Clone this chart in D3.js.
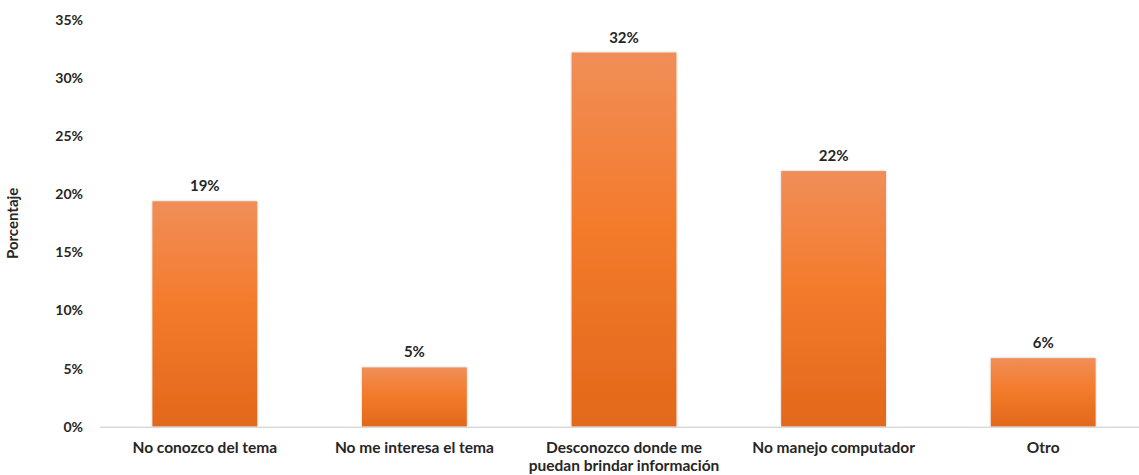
<!DOCTYPE html>
<html>
<head>
<meta charset="utf-8">
<script src="https://cdn.jsdelivr.net/npm/d3@7"></script>
<style>
  html, body { margin: 0; padding: 0; background: #fff; }
  svg { display: block; }
  text { font-family: Lato, "Open Sans", sans-serif; font-weight: 700; fill: #262626; }
</style>
</head>
<body>
<svg id="chart" width="1139" height="475"></svg>
<script>
// Razones por las que no se usa el servicio (porcentaje de respuestas)
const categories = [
  "No conozco del tema",
  "No me interesa el tema",
  "Desconozco donde me|puedan brindar información",
  "No manejo computador",
  "Otro"
];
const values = [0.194, 0.051, 0.322, 0.220, 0.059];
const yTicks = [0, 0.05, 0.10, 0.15, 0.20, 0.25, 0.30, 0.35];
const yTitle = "Porcentaje";

const svg = d3.select("#chart");
const W = 1139, H = 475;
const margin = { top: 20, left: 100, bottom: 48 };
const plotRight = 1148;
const baseY = H - margin.bottom - 0.3;

const x = d3.scaleBand()
  .domain(categories)
  .range([margin.left, plotRight])
  .paddingInner(0.5)
  .paddingOuter(0.25);

const y = d3.scaleLinear()
  .domain([0, 0.35])
  .range([baseY, margin.top]);

const pct = d3.format(".0%");

// bar fill: light orange at the top, deeper orange at the base
const defs = svg.append("defs");
const grad = defs.append("linearGradient")
  .attr("id", "barFill")
  .attr("x1", 0).attr("y1", 0).attr("x2", 0).attr("y2", 1);
grad.append("stop").attr("offset", "0%").attr("stop-color", "#F08E58");
grad.append("stop").attr("offset", "45%").attr("stop-color", "#F37B2C");
grad.append("stop").attr("offset", "100%").attr("stop-color", "#E2681B");

const shadow = defs.append("filter").attr("id", "barShadow")
  .attr("x", "-5%").attr("y", "-5%").attr("width", "110%").attr("height", "110%");
shadow.append("feDropShadow")
  .attr("dx", 0).attr("dy", 0).attr("stdDeviation", 1)
  .attr("flood-color", "#000").attr("flood-opacity", 0.25);

// y axis (labels only)
const yAxis = d3.axisLeft(y)
  .tickValues(yTicks)
  .tickFormat(pct)
  .tickSize(0)
  .tickPadding(0);
const yg = svg.append("g")
  .attr("transform", "translate(83,0)")
  .call(yAxis);
yg.select(".domain").remove();
yg.selectAll("text")
  .attr("font-size", 14)
  .attr("font-family", "Lato, sans-serif")
  .attr("font-weight", 700)
  .attr("fill", "#262626");

// y axis title
svg.append("text")
  .attr("transform", `translate(18,${(margin.top + baseY) / 2}) rotate(-90)`)
  .attr("text-anchor", "middle")
  .attr("font-size", 15)
  .text(yTitle);

// bars
svg.append("g").selectAll("rect")
  .data(values)
  .join("rect")
  .attr("x", (d, i) => x(categories[i]))
  .attr("y", d => y(d))
  .attr("width", x.bandwidth())
  .attr("height", d => y(0) - y(d))
  .attr("fill", "url(#barFill)")
  .attr("filter", "url(#barShadow)");

// baseline
svg.append("line")
  .attr("x1", margin.left).attr("x2", W)
  .attr("y1", baseY + 0.5).attr("y2", baseY + 0.5)
  .attr("stroke", "#D9D9D9").attr("stroke-width", 1.5);

// value labels
svg.append("g").selectAll("text")
  .data(values)
  .join("text")
  .attr("x", (d, i) => x(categories[i]) + x.bandwidth() / 2)
  .attr("y", d => y(d) - 10)
  .attr("text-anchor", "middle")
  .attr("font-size", 15)
  .text(d => pct(d));

// category labels (| marks a line break)
const xAxis = d3.axisBottom(x).tickSize(0).tickFormat("");
const xg = svg.append("g")
  .attr("transform", `translate(0,${baseY})`)
  .call(xAxis);
xg.select(".domain").remove();
xg.selectAll(".tick").each(function (d) {
  const t = d3.select(this).append("text")
    .attr("text-anchor", "middle")
    .attr("y", 26)
    .attr("font-size", 15.5)
    .attr("font-family", "Lato, sans-serif")
    .attr("font-weight", 700)
    .attr("fill", "#262626");
  d.split("|").forEach((line, i) => {
    t.append("tspan").attr("x", 0).attr("dy", i === 0 ? 0 : 18.5).text(line);
  });
});
</script>
</body>
</html>
